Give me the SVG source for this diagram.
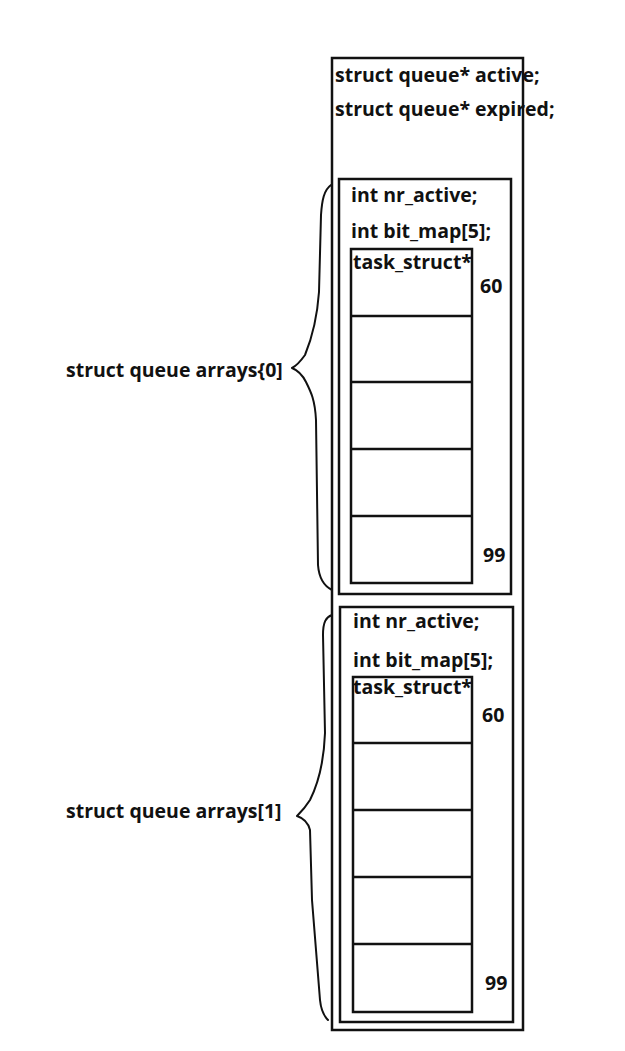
<svg xmlns="http://www.w3.org/2000/svg" width="625" height="1051" viewBox="0 0 625 1051">
<style>
text{font-family:"Open Sans","Noto Sans","DejaVu Sans",sans-serif;font-weight:bold;font-size:19.5px;fill:#111}
.box{fill:none;stroke:#111;stroke-width:2.5}
.cell{fill:none;stroke:#111;stroke-width:2.5}
.brace{fill:none;stroke:#111;stroke-width:2;stroke-linejoin:round;stroke-linecap:round}
</style>
<rect width="625" height="1051" fill="#fff"/>
<g id="runqueue">
<rect class="box" x="332" y="58" width="191" height="972"/>
<text x="335" y="82">struct queue* active;</text>
<text x="335" y="116">struct queue* expired;</text>
</g>
<g id="queue0">
<rect class="box" x="339" y="179" width="172" height="415"/>
<text x="351" y="202">int nr_active;</text>
<text x="351" y="238">int bit_map[5];</text>
<rect class="cell" x="351" y="249" width="121" height="334"/>
<line class="cell" x1="351" y1="316" x2="472" y2="316"/>
<line class="cell" x1="351" y1="382" x2="472" y2="382"/>
<line class="cell" x1="351" y1="449" x2="472" y2="449"/>
<line class="cell" x1="351" y1="516" x2="472" y2="516"/>
<text x="353" y="269">task_struct*</text>
<text x="480" y="293">60</text>
<text x="483" y="562">99</text>
</g>
<g id="queue1">
<rect class="box" x="340" y="607" width="173" height="415"/>
<text x="353" y="628">int nr_active;</text>
<text x="353" y="667">int bit_map[5];</text>
<rect class="cell" x="353" y="677" width="119" height="335"/>
<line class="cell" x1="353" y1="743" x2="472" y2="743"/>
<line class="cell" x1="353" y1="810" x2="472" y2="810"/>
<line class="cell" x1="353" y1="877" x2="472" y2="877"/>
<line class="cell" x1="353" y1="944" x2="472" y2="944"/>
<text x="353" y="694">task_struct*</text>
<text x="482" y="722">60</text>
<text x="485" y="990">99</text>
</g>
<g id="label0">
<text x="66" y="377">struct queue arrays{0]</text>
</g>
<g id="label1">
<text x="66" y="818">struct queue arrays[1]</text>
</g>
<g id="connectors">
<path class="brace" d="M331,185 C324,190 322,200 321,215 L319,292 C317,320 312,338 305,355 C300,362 296,366 292,368 C297,370 302,374 306,382 C311,392 315,400 316,420 L318,565 C319,578 324,586 332,590"/>
<path class="brace" d="M332,615 C326,617 323,622 323,635 L325,733 C324,760 320,780 310,800 C305,808 300,813 297,816 C303,818 308,822 310,830 L312,900 L320,1000 C321,1010 324,1016 328,1020"/>
</g>
</svg>
